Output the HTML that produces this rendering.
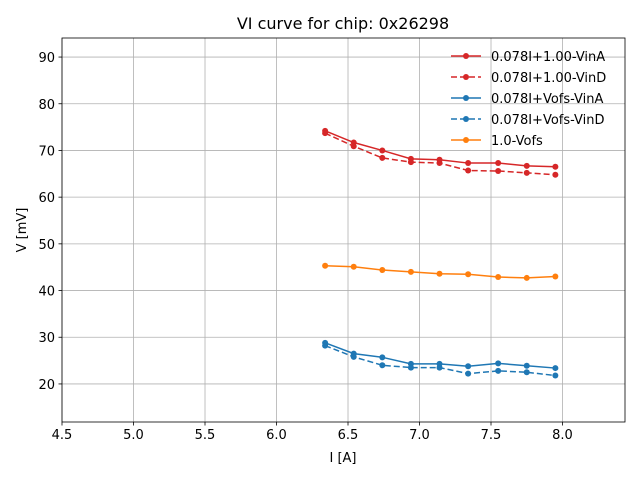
<!DOCTYPE html>
<html><head><meta charset="utf-8"><style>
body{margin:0;background:#fff;}
svg text{font-family:"DejaVu Sans","Liberation Sans",sans-serif;}
</style></head><body>
<svg id="c" width="640" height="480" xmlns="http://www.w3.org/2000/svg"></svg>
<script>
const xs = [6.34,6.54,6.74,6.94,7.14,7.34,7.55,7.75,7.95];
const vinA = [74.2,71.7,70.0,68.2,68.0,67.3,67.3,66.7,66.5];
const vinD = [73.7,70.9,68.4,67.5,67.3,65.7,65.6,65.2,64.8];
const vofsA = [28.8,26.5,25.7,24.3,24.3,23.8,24.4,23.9,23.4];
const vofsD = [28.2,25.8,24.0,23.5,23.5,22.2,22.8,22.5,21.8];
const ofs = [45.3,45.1,44.4,44.0,43.6,43.5,42.9,42.7,43.0];
const xTicks = [4.5,5.0,5.5,6.0,6.5,7.0,7.5,8.0];
const yTicks = [20,30,40,50,60,70,80,90];
const labels = ["0.078I+1.00-VinA","0.078I+1.00-VinD","0.078I+Vofs-VinA","0.078I+Vofs-VinD","1.0-Vofs"];

const L=62,R=625,T=38,B=422, x0=4.5,x1=8.437,y0=11.85,y1=94.08;
const X=v=>L+(v-x0)/(x1-x0)*(R-L);
const Y=v=>B-(v-y0)/(y1-y0)*(B-T);
const svg=document.getElementById('c');
const NS='http://www.w3.org/2000/svg';
function mk(t,a,p){const e=document.createElementNS(NS,t);for(const k in a)e.setAttribute(k,a[k]);(p||svg).appendChild(e);return e;}
mk('rect',{x:0,y:0,width:640,height:480,fill:'#fff'});
let tt=mk('text',{x:343,y:29,'text-anchor':'middle','font-size':16,fill:'#000'});tt.textContent='VI curve for chip: 0x26298';


xTicks.forEach(v=>{const x=X(v);
 let g=mk('line',{x1:x,x2:x,y1:T,y2:B,stroke:'#b0b0b0','stroke-width':0.8});
 
 
 mk('line',{x1:x,x2:x,y1:B,y2:B+3.5,stroke:'#000','stroke-width':0.8});
 let t=mk('text',{x:x,y:B+17,'text-anchor':'middle','font-size':13});t.textContent=v.toFixed(1);
 
 });
yTicks.forEach(v=>{const y=Y(v);
 let g=mk('line',{x1:L,x2:R,y1:y,y2:y,stroke:'#b0b0b0','stroke-width':0.8});
 
 
 mk('line',{x1:L-3.5,x2:L,y1:y,y2:y,stroke:'#000','stroke-width':0.8});
 let t=mk('text',{x:L-7,y:y+5,'text-anchor':'end','font-size':13});t.textContent=v;
 
 });
const series=[[vinA,'#d62728',''],[vinD,'#d62728','6,3'],[vofsA,'#1f77b4',''],[vofsD,'#1f77b4','6,3'],[ofs,'#ff7f0e','']];
series.forEach((s,i)=>{
 const g=mk('g',{});
 
 
 mk('polyline',{points:xs.map((x,j)=>X(x)+','+Y(s[0][j])).join(' '),fill:'none',stroke:s[1],'stroke-width':1.5,'stroke-dasharray':s[2]},g);
 xs.forEach((x,j)=>mk('circle',{cx:X(x),cy:Y(s[0][j]),r:3,fill:s[1]},g));
});
mk('rect',{x:L,y:T,width:R-L,height:B-T,fill:'none',stroke:'#000','stroke-width':0.8});
let xl=mk('text',{x:343,y:462,'text-anchor':'middle','font-size':13});xl.textContent='I [A]';


let yl=mk('text',{x:26,y:230,'text-anchor':'middle','font-size':13,transform:'rotate(-90 26 230)'});yl.textContent='V [mV]';


const lg=mk('g',{});


series.forEach((s,i)=>{const y=56+i*21;
 const e=mk('g',{},lg);
 
 
 mk('line',{x1:451,x2:481,y1:y,y2:y,stroke:s[1],'stroke-width':1.5,'stroke-dasharray':s[2]},e);
 mk('circle',{cx:466,cy:y,r:3,fill:s[1]},e);
 let t=mk('text',{x:491,y:y+5,'font-size':13},e);t.textContent=labels[i];});
</script>
</body></html>
